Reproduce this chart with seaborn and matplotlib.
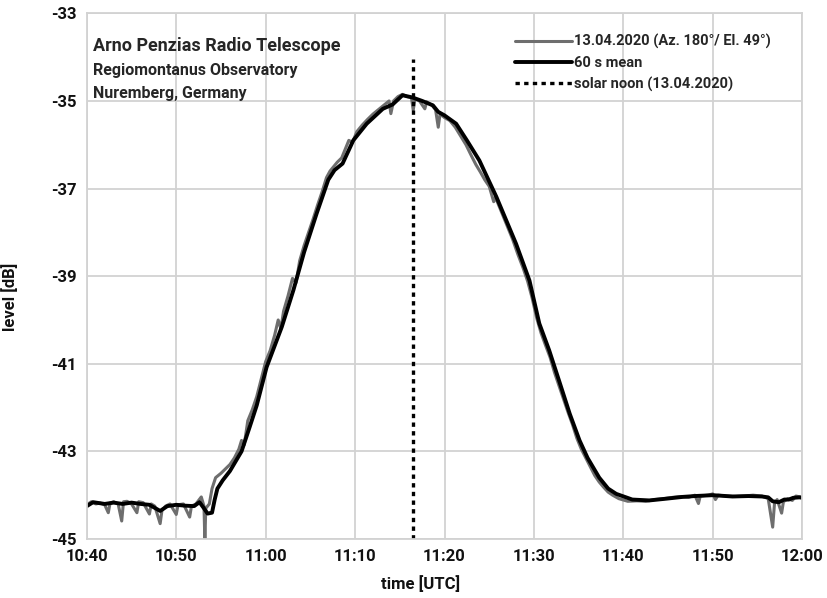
import matplotlib
matplotlib.use("Agg")
import matplotlib.pyplot as plt
import pandas as pd
import seaborn as sns

# minutes after 10:40 UTC
raw_minutes = [
    0, 0.5, 1.0, 1.5, 2.0, 2.4, 2.6, 3.0, 3.5, 3.9, 4.1, 4.5, 5.0, 5.6, 5.8, 6.3,
    7.0, 7.2, 7.6, 8.2, 8.4, 8.8, 9.3, 10.0, 10.2, 10.8, 11.5, 11.7, 12.2, 12.8,
    13.1, 13.2, 13.3, 13.7, 14.0, 14.4, 15.0, 15.5, 16.0, 16.5, 17.0, 17.3, 17.6,
    18.0, 18.5, 19.0, 19.5, 20.0, 20.5, 21.0, 21.4, 21.7, 22.0, 22.5, 23.0, 23.4,
    23.8, 24.3, 24.8, 25.3, 25.8, 26.3, 26.8, 27.2, 27.6, 28.0, 28.5, 29.0, 29.3,
    29.7, 30.2, 30.8, 31.4, 32.0, 32.6, 33.2, 33.8, 34.0, 34.3, 34.8, 35.3, 35.8,
    36.3, 36.5, 36.7, 37.2, 37.8, 38.0, 38.6, 39.0, 39.3, 39.5, 40.0, 40.6, 41.2,
    41.8, 42.4, 43.0, 43.5, 44.0, 44.5, 45.0, 45.5, 45.7, 46.3, 47.0, 47.6, 48.2,
    48.8, 49.3, 49.8, 50.3, 50.8, 51.3, 51.8, 52.3, 52.8, 53.3, 53.8, 54.3, 54.8,
    55.3, 55.8, 56.3, 56.8, 57.3, 57.8, 58.3, 58.8, 59.5, 60.5, 61.5, 62.5, 63.5,
    64.5, 65.5, 66.5, 67.3, 68.0, 68.4, 68.6, 69.5, 70.0, 70.3, 70.6, 71.5, 72.5,
    73.5, 74.5, 75.5, 76.2, 76.7, 76.9, 77.2, 77.7, 77.9, 78.4, 78.9, 79.3, 80.0,
]
raw_level = [
    -44.22, -44.15, -44.20, -44.18, -44.22, -44.40, -44.18, -44.15, -44.20, -44.59,
    -44.15, -44.14, -44.20, -44.40, -44.15, -44.17, -44.43, -44.20, -44.25, -44.65,
    -44.35, -44.25, -44.20, -44.44, -44.22, -44.20, -44.50, -44.25, -44.20, -44.04,
    -44.25, -45.05, -44.30, -44.20, -43.85, -43.60, -43.50, -43.40, -43.30, -43.15,
    -42.95, -42.75, -42.85, -42.30, -42.05, -41.75, -41.35, -40.95, -40.70, -40.35,
    -40.00, -40.20, -39.80, -39.45, -39.05, -39.15, -38.65, -38.30, -38.00, -37.70,
    -37.38, -37.08, -36.75, -36.60, -36.50, -36.40, -36.30, -36.05, -35.90, -35.95,
    -35.70, -35.55, -35.42, -35.30, -35.20, -35.10, -35.00, -35.29, -35.00, -34.90,
    -34.85, -34.90, -34.92, -35.21, -34.95, -35.00, -35.18, -35.02, -35.10, -35.20,
    -35.60, -35.30, -35.38, -35.45, -35.60, -35.80, -36.00, -36.25, -36.45, -36.62,
    -36.80, -36.95, -37.30, -37.20, -37.50, -37.85, -38.15, -38.50, -38.82, -39.12,
    -39.50, -39.95, -40.30, -40.58, -40.85, -41.20, -41.50, -41.80, -42.10, -42.38,
    -42.70, -42.95, -43.15, -43.35, -43.55, -43.70, -43.82, -43.93, -44.00, -44.08,
    -44.14, -44.13, -44.14, -44.10, -44.08, -44.05, -44.03, -44.05, -44.00, -44.19,
    -44.02, -44.00, -43.97, -44.10, -44.00, -44.02, -44.03, -44.02, -44.00, -44.02,
    -44.08, -44.73, -44.20, -44.10, -44.41, -44.15, -44.08, -44.12, -44.02, -44.05,
]

mean_minutes = [
    0, 0.7, 2, 3, 4, 5, 6, 7, 8.2, 9, 10, 11, 12, 12.6, 13.1, 13.5, 14.0, 14.3,
    14.6, 15.2, 16.0, 17.3, 18.2, 19.0, 20.1, 21.8, 23.1, 24.3, 25.7, 27.0, 27.7,
    28.6, 29.8, 31.3, 33.1, 34.2, 35.3, 36.4, 37.5, 38.7, 39.3, 40.0, 41.3, 42.5,
    43.9, 45.8, 48.0, 49.5, 50.6, 51.7, 52.8, 54.0, 55.1, 56.0, 57.3, 58.3, 59.2,
    61.0, 62.9, 64.8, 66.6, 68, 70, 72.2, 74, 75.5, 76.2, 76.7, 77.4, 78.0, 78.5,
    79.0, 79.7, 80.0,
]
mean_level = [
    -44.25, -44.16, -44.20, -44.17, -44.20, -44.17, -44.20, -44.22, -44.36, -44.25,
    -44.22, -44.24, -44.25, -44.16, -44.30, -44.42, -44.40, -44.10, -43.85, -43.66,
    -43.45, -43.00, -42.45, -41.95, -41.08, -40.16, -39.32, -38.45, -37.57, -36.80,
    -36.58, -36.43, -35.90, -35.52, -35.18, -35.08, -34.87, -34.92, -35.00, -35.10,
    -35.25, -35.33, -35.52, -35.90, -36.36, -37.19, -38.26, -39.10, -40.08, -40.69,
    -41.38, -42.14, -42.75, -43.15, -43.60, -43.85, -43.97, -44.10, -44.12, -44.08,
    -44.04, -44.02, -44.00, -44.03, -44.02, -44.03, -44.05, -44.14, -44.16, -44.10,
    -44.10, -44.06, -44.05, -44.06,
]

solar_noon_minute = 36.5
solar_noon_span = [-45.0, -34.05]

x_ticks = [0, 10, 20, 30, 40, 50, 60, 70, 80]
x_tick_labels = ["10:40", "10:50", "11:00", "11:10", "11:20", "11:30", "11:40", "11:50", "12:00"]
y_ticks = [-45, -43, -41, -39, -37, -35, -33]

title_lines = ["Arno Penzias Radio Telescope", "Regiomontanus Observatory", "Nuremberg, Germany"]
raw_label = "13.04.2020 (Az. 180°/ El. 49°)"
mean_label = "60 s mean"
noon_label = "solar noon (13.04.2020)"

raw_df = pd.DataFrame({"minute": raw_minutes, "level": raw_level})
mean_df = pd.DataFrame({"minute": mean_minutes, "level": mean_level})
noon_df = pd.DataFrame({"minute": [solar_noon_minute] * 2, "level": solar_noon_span})

sns.set_theme(style="white")
plt.rcParams["font.family"] = ["Roboto", "DejaVu Sans"]
plt.rcParams["axes.unicode_minus"] = False
grid_color = "#d2d2d2"
text_weight = "semibold"

fig = plt.figure(figsize=(8.27, 5.98), dpi=100)
ax = fig.add_axes([0.105, 0.0987, 0.865, 0.879])

sns.lineplot(data=raw_df, x="minute", y="level", ax=ax, color="#6e6e6e", lw=2.2,
             sort=False, estimator=None, label=raw_label)
sns.lineplot(data=mean_df, x="minute", y="level", ax=ax, color="black", lw=2.8,
             sort=False, estimator=None, label=mean_label)
sns.lineplot(data=noon_df, x="minute", y="level", ax=ax, color="black", lw=2.4,
             linestyle=(0, (1.3, 1.3)), sort=False, estimator=None, label=noon_label)

ax.set_xlim(0, 80)
ax.set_ylim(-45, -33)
ax.set_xticks(x_ticks)
ax.set_xticklabels(x_tick_labels)
ax.set_yticks(y_ticks)
ax.grid(True, color=grid_color, lw=1.3)
for side in ["left", "bottom", "top", "right"]:
    ax.spines[side].set_color(grid_color)
    ax.spines[side].set_linewidth(1.3)
ax.tick_params(axis="both", length=5, width=1.2, color=grid_color, labelsize=12,
               pad=2, labelcolor="#111111")
for lab in ax.get_xticklabels() + ax.get_yticklabels():
    lab.set_fontweight(text_weight)

ax.set_xlabel("time [UTC]", fontsize=12, fontweight=text_weight, color="#111111")
ax.set_ylabel("level [dB]", fontsize=12, fontweight=text_weight, color="#111111")
ax.xaxis.set_label_coords(0.466, -0.068)
ax.yaxis.set_label_coords(-0.096, 0.46)

ax.text(0.009, 0.955, title_lines[0], transform=ax.transAxes, fontsize=13,
        fontweight=text_weight, va="top", ha="left")
ax.text(0.009, 0.905, title_lines[1], transform=ax.transAxes, fontsize=11.5,
        fontweight=text_weight, va="top", ha="left")
ax.text(0.009, 0.862, title_lines[2], transform=ax.transAxes, fontsize=11.5,
        fontweight=text_weight, va="top", ha="left")

leg = ax.legend(loc="upper right", bbox_to_anchor=(0.975, 0.985), frameon=False,
                fontsize=10.5, handlelength=3.9, handletextpad=0.2, labelspacing=0.45)
for t in leg.get_texts():
    t.set_fontweight(text_weight)

fig.savefig("out.png", dpi=100)
